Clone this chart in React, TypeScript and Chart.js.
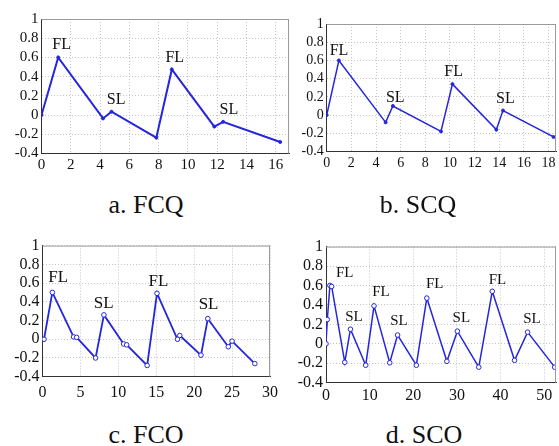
import React, { useEffect, useRef } from 'react';
import { Chart, registerables } from 'chart.js';
Chart.register(...registerables);

// a. FCQ
const fcqX = [0, 1.14, 4.2, 4.78, 7.84, 8.9, 11.8, 12.4, 16.3];
const fcqY = [0, 0.6, -0.035, 0.035, -0.235, 0.475, -0.12, -0.07, -0.28];
const fcqLabelText = ['FL', 'SL', 'FL', 'SL'];
const fcqLabelX = [1.37, 5.1, 9.1, 12.8];
const fcqLabelY = [0.73, 0.156, 0.6, 0.06];

// b. SCQ
const scqX = [0, 0.99, 4.78, 5.37, 9.27, 10.2, 13.76, 14.3, 18.4];
const scqY = [0, 0.6, -0.08, 0.1, -0.18, 0.34, -0.16, 0.05, -0.24];
const scqLabelText = ['FL', 'SL', 'FL', 'SL'];
const scqLabelX = [1.0, 5.56, 10.3, 14.5];
const scqLabelY = [0.71, 0.19, 0.48, 0.18];

// c. FCO
const fcoX = [0.2, 1.3, 4.1, 4.5, 7.0, 8.1, 10.7, 11.1, 13.8, 15.1, 17.8, 18.1, 20.9, 21.8, 24.5, 25.0, 28.0];
const fcoY = [0, 0.5, 0.025, 0.02, -0.2, 0.26, -0.05, -0.06, -0.28, 0.49, 0.0, 0.04, -0.17, 0.22, -0.08, -0.02, -0.26];
const fcoLabelText = ['FL', 'SL', 'FL', 'SL'];
const fcoLabelX = [2.06, 8.07, 15.3, 21.9];
const fcoLabelY = [0.66, 0.38, 0.62, 0.37];

// d. SCO
const scoX = [0, 0.3, 0.9, 1.3, 4.3, 5.6, 9.1, 11.0, 14.6, 16.4, 20.7, 23.1, 27.7, 30.1, 35.0, 38.1, 43.2, 46.2, 52.4];
const scoY = [0, 0.25, 0.6, 0.59, -0.19, 0.15, -0.22, 0.39, -0.195, 0.09, -0.22, 0.47, -0.18, 0.13, -0.24, 0.54, -0.17, 0.12, -0.24];
const scoLabelText = ['FL', 'SL', 'FL', 'SL', 'FL', 'SL', 'FL', 'SL'];
const scoLabelX = [4.3, 6.4, 12.6, 16.7, 24.9, 31.0, 39.3, 47.2];
const scoLabelY = [0.73, 0.28, 0.53, 0.23, 0.61, 0.26, 0.66, 0.25];

const yMin = -0.4;
const yMax = 1;
const yStep = 0.2;

const SERIF = '"Liberation Serif", "DejaVu Serif", serif';

type PanelProps = {
  xs: number[];
  ys: number[];
  labelText: string[];
  labelX: number[];
  labelY: number[];
  xMax: number;
  xStep: number;
  L: number;
  T: number;
  R: number;
  B: number;
  tickSize: number;
  labelSize: number;
  xTickPad: number;
  open: boolean;
  lineWidth: number;
};

function Panel(p: PanelProps) {
  const ref = useRef<HTMLCanvasElement | null>(null);
  const cLeft = Math.floor(p.L) - 42;
  const cTop = Math.floor(p.T) - 12;
  const cW = Math.ceil(p.R) + 4 - cLeft;
  const cH = Math.ceil(p.B) + 28 - cTop;
  const yW = p.L - cLeft;
  const padTop = p.T - cTop;
  const padRight = cW - (p.R - cLeft);
  const xH = cH - (p.B - cTop);

  useEffect(() => {
    if (!ref.current) return;
    const labelPlugin = {
      id: 'annot',
      afterDatasetsDraw(chart: any) {
        const ctx = chart.ctx;
        const xs = chart.scales.x;
        const ysc = chart.scales.y;
        ctx.save();
        ctx.font = `${p.labelSize}px ${SERIF}`;
        ctx.fillStyle = '#111';
        ctx.textAlign = 'center';
        ctx.textBaseline = 'middle';
        p.labelText.forEach((t, i) => {
          ctx.fillText(t, xs.getPixelForValue(p.labelX[i]), ysc.getPixelForValue(p.labelY[i]));
        });
        ctx.restore();
      },
      afterDraw(chart: any) {
        const a = chart.chartArea;
        const ctx = chart.ctx;
        ctx.save();
        ctx.strokeStyle = '#9a9a9a';
        ctx.lineWidth = 1;
        ctx.beginPath();
        ctx.moveTo(a.left, a.top + 0.5);
        ctx.lineTo(a.right, a.top + 0.5);
        ctx.moveTo(a.right - 0.5, a.top);
        ctx.lineTo(a.right - 0.5, a.bottom);
        ctx.stroke();
        ctx.restore();
      },
    };
    const chart = new Chart(ref.current, {
      type: 'line',
      data: {
        datasets: [
          {
            data: p.xs.map((x, i) => ({ x, y: p.ys[i] })),
            borderColor: '#2626dc',
            borderWidth: p.lineWidth,
            pointRadius: p.open ? 2.3 : 1.5,
            pointBackgroundColor: p.open ? '#ffffff' : '#2626dc',
            pointBorderColor: '#2626dc',
            pointBorderWidth: 1,
            tension: 0,
          },
        ],
      },
      options: {
        responsive: false,
        animation: false,
        events: [],
        layout: { padding: { top: padTop, right: padRight, left: 0, bottom: 0 } },
        plugins: { legend: { display: false }, tooltip: { enabled: false }, title: { display: false } },
        scales: {
          x: {
            type: 'linear',
            min: 0,
            max: p.xMax,
            afterFit: (s: any) => {
              s.height = xH;
            },
            ticks: {
              stepSize: p.xStep,
              includeBounds: false,
              autoSkip: false,
              maxRotation: 0,
              padding: p.xTickPad,
              color: '#111',
              font: { family: SERIF, size: p.tickSize },
            },
            grid: { color: '#c4c4c4', drawTicks: false, lineWidth: 1 },
            border: { color: '#333', dash: [1, 2], width: 1 },
          },
          y: {
            type: 'linear',
            min: yMin,
            max: yMax,
            afterFit: (s: any) => {
              s.width = yW;
            },
            ticks: {
              stepSize: yStep,
              autoSkip: false,
              padding: 3,
              color: '#111',
              font: { family: SERIF, size: p.tickSize },
              callback: (v: any) => String(Math.round(Number(v) * 10) / 10),
            },
            grid: { color: '#c4c4c4', drawTicks: false, lineWidth: 1 },
            border: { color: '#333', dash: [1, 2], width: 1 },
          },
        },
      },
      plugins: [labelPlugin],
    } as any);
    return () => chart.destroy();
  }, []);

  return (
    <canvas
      ref={ref}
      width={cW}
      height={cH}
      style={{ position: 'absolute', left: cLeft, top: cTop, width: cW, height: cH }}
    />
  );
}

const captionStyle = (cx: number, top: number): React.CSSProperties => ({
  position: 'absolute',
  left: cx - 80,
  width: 160,
  top,
  textAlign: 'center',
  fontFamily: SERIF,
  fontSize: 26,
  lineHeight: '30px',
  color: '#111',
});

export default function App() {
  return (
    <div
      style={{
        position: 'fixed',
        left: 0,
        top: 0,
        width: 559,
        height: 446,
        background: '#fff',
        overflow: 'hidden',
      }}
    >
      <Panel xs={fcqX} ys={fcqY} labelText={fcqLabelText} labelX={fcqLabelX} labelY={fcqLabelY}
        xMax={16.9} xStep={2} L={41.5} T={19} R={290} B={153.5} tickSize={15} labelSize={16} xTickPad={3} open={false} lineWidth={2} />
      <Panel xs={scqX} ys={scqY} labelText={scqLabelText} labelX={scqLabelX} labelY={scqLabelY}
        xMax={18.6} xStep={2} L={326.7} T={24} R={557} B={151.5} tickSize={14} labelSize={16} xTickPad={3} open={false} lineWidth={1.5} />
      <Panel xs={fcoX} ys={fcoY} labelText={fcoLabelText} labelX={fcoLabelX} labelY={fcoLabelY}
        xMax={30} xStep={5} L={42.5} T={245} R={279.3} B={376.7} tickSize={16} labelSize={17} xTickPad={6} open={true} lineWidth={1.8} />
      <Panel xs={scoX} ys={scoY} labelText={scoLabelText} labelX={scoLabelX} labelY={scoLabelY}
        xMax={52.7} xStep={10} L={326} T={246} R={556.7} B={382.7} tickSize={16} labelSize={15} xTickPad={3} open={true} lineWidth={1.5} />
      <div style={captionStyle(146, 190)}>a. FCQ</div>
      <div style={captionStyle(418, 190)}>b. SCQ</div>
      <div style={captionStyle(146, 420)}>c. FCO</div>
      <div style={captionStyle(424, 420)}>d. SCO</div>
    </div>
  );
}
